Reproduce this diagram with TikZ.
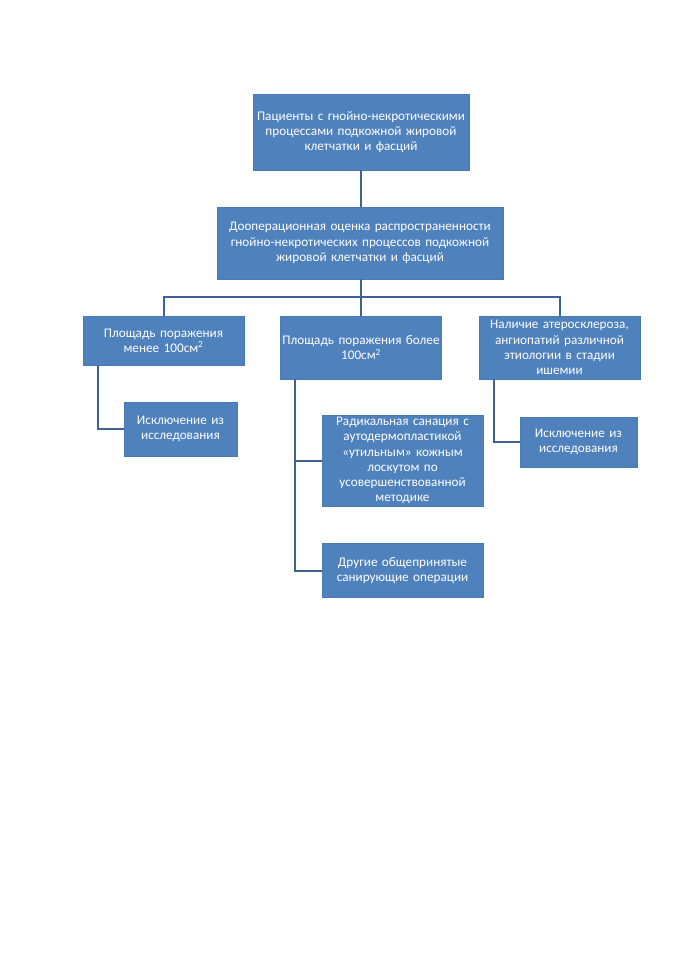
\documentclass[tikz,border=0pt]{standalone}
\usepackage{fontspec}
\setmainfont{Carlito}
\usetikzlibrary{calc}
\definecolor{boxblue}{HTML}{4F81BD}
\definecolor{boxedge}{HTML}{4A7AB3}
\definecolor{linkblue}{HTML}{3E6293}
\begin{document}
\begin{tikzpicture}[x=1pt,y=1pt,
  box/.style={rectangle, fill=boxblue, draw=boxedge, line width=0.6pt, text=white,
    align=center, inner sep=1pt, font=\fontsize{13.2}{15.3}\selectfont},
  link/.style={draw=linkblue, line width=2pt}]
\useasboundingbox (0,0) rectangle (678,-960);
\fill[white] (0,0) rectangle (678,-960);
\node[box, minimum width=216, minimum height=76, text width=214] (b1) at (361,-132)
  {Пациенты с гнойно-некротическими\\процессами подкожной жировой\\клетчатки и фасций};
\node[box, minimum width=286, minimum height=72, text width=284] (b2) at (360,-243)
  {Дооперационная оценка распространенности\\гнойно-некротических процессов подкожной\\жировой клетчатки и фасций};
\node[box, minimum width=161, minimum height=49, text width=159] (l1) at (163.5,-340.5)
  {Площадь поражения\\менее 100см\textsuperscript{2}};
\node[box, minimum width=161, minimum height=63, text width=159] (m1) at (361,-347.5)
  {Площадь поражения более\\100см\textsuperscript{2}};
\node[box, minimum width=161, minimum height=63, text width=159] (r1) at (559.5,-347.5)
  {Наличие атеросклероза,\\ангиопатий различной\\этиологии в стадии\\ишемии};
\node[box, minimum width=113, minimum height=54, text width=111] (l2) at (180.5,-429)
  {Исключение из\\исследования};
\node[box, minimum width=161, minimum height=91, text width=159] (m2) at (402.5,-460.5)
  {Радикальная санация с\\аутодермопластикой\\«утильным» кожным\\лоскутом по\\усовершенствованной\\методике};
\node[box, minimum width=161, minimum height=54, text width=159] (m3) at (402.5,-570.5)
  {Другие общепринятые\\санирующие операции};
\node[box, minimum width=117, minimum height=50, text width=115] (r2) at (578.5,-442)
  {Исключение из\\исследования};
\coordinate (bus) at (361,-297);
\draw[link] (b1.south) -- (b1.south |- b2.north);
\draw[link] (b1.south |- b2.south) -- (m1.north);
\draw[link] (l1.north) |- (bus) -| (r1.north);
\draw[link] ($(l1.south west)+(15,0)$) |- (l2.west);
\draw[link] ($(m1.south west)+(15,0)$) |- (m2.west);
\draw[link] ($(m1.south west)+(15,0)$) |- (m3.west);
\draw[link] ($(r1.south west)+(15,0)$) |- (r2.west);
\end{tikzpicture}
\end{document}
